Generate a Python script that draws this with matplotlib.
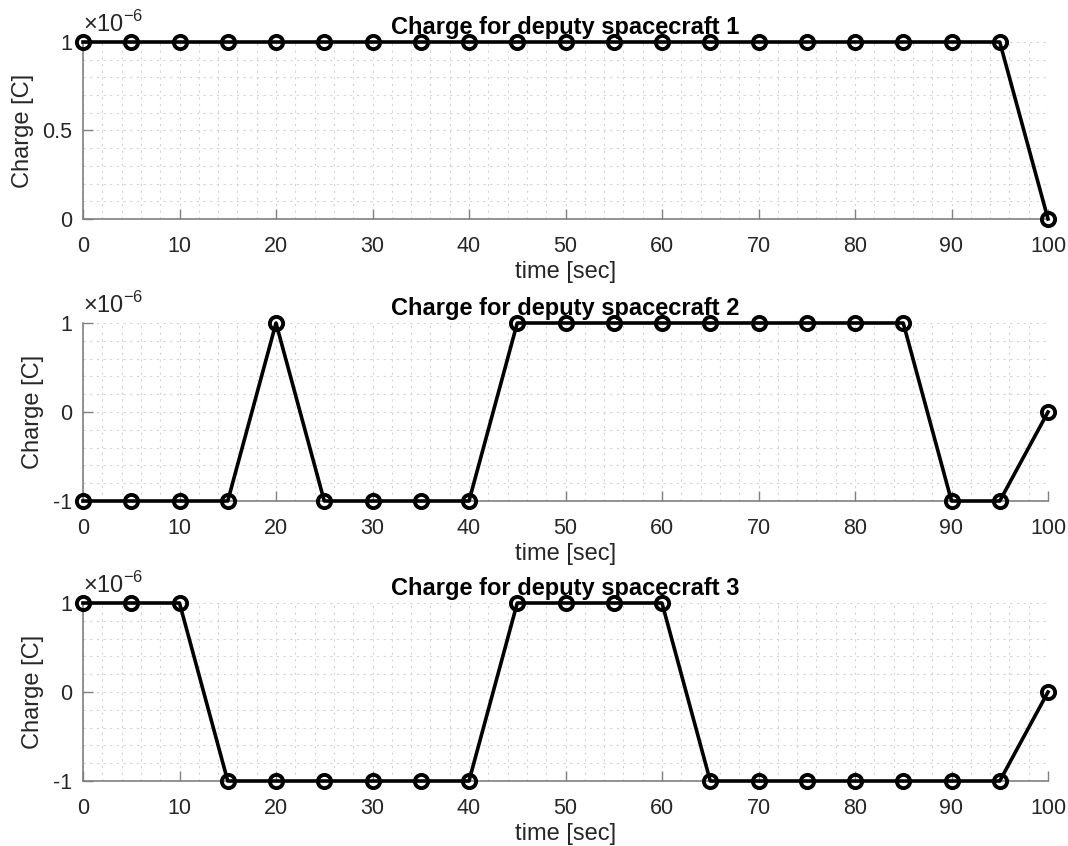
import matplotlib
matplotlib.use('Agg')
import matplotlib.pyplot as plt
from matplotlib.ticker import FuncFormatter, MultipleLocator

plt.rcParams['font.family'] = ['Liberation Sans', 'DejaVu Sans']
plt.rcParams['mathtext.fontset'] = 'custom'
plt.rcParams['mathtext.rm'] = 'Liberation Sans'

# time samples and charge levels (units of 1e-6 C)
time = [0, 5, 10, 15, 20, 25, 30, 35, 40, 45, 50, 55, 60, 65, 70, 75, 80, 85, 90, 95, 100]
q1 = [1, 1, 1, 1, 1, 1, 1, 1, 1, 1, 1, 1, 1, 1, 1, 1, 1, 1, 1, 1, 0]
q2 = [-1, -1, -1, -1, 1, -1, -1, -1, -1, 1, 1, 1, 1, 1, 1, 1, 1, 1, -1, -1, 0]
q3 = [1, 1, 1, -1, -1, -1, -1, -1, -1, 1, 1, 1, 1, -1, -1, -1, -1, -1, -1, -1, 0]
titles = ['Charge for deputy spacecraft 1', 'Charge for deputy spacecraft 2',
          'Charge for deputy spacecraft 3']
scale = 1e-6

fig = plt.figure(figsize=(10.68, 8.46), dpi=100)
W, H = 1068, 846
boxes = [(42, 219), (323, 501), (603, 781)]  # top, bottom in pixels
axis_col = '#808080'
text_col = '#262626'


def fmt(v, pos):
    s = f"{v / scale:.6g}"
    return '0' if s in ('-0', '0') else s


for k, (q, ttl) in enumerate(zip([q1, q2, q3], titles)):
    top, bot = boxes[k]
    ax = fig.add_axes([83 / W, (H - bot) / H, 965 / W, (bot - top) / H])
    y = [v * scale for v in q]
    ax.plot(time, y, color='black', linewidth=2.6, marker='o', markersize=9.5,
            markerfacecolor='none', markeredgewidth=2.8, clip_on=False, zorder=5)
    ax.set_xlim(0, 100)
    if k == 0:
        ax.set_ylim(0, 1e-6)
        ax.yaxis.set_major_locator(MultipleLocator(0.5e-6))
        ax.yaxis.set_minor_locator(MultipleLocator(0.1e-6))
    else:
        ax.set_ylim(-1e-6, 1e-6)
        ax.yaxis.set_major_locator(MultipleLocator(1e-6))
        ax.yaxis.set_minor_locator(MultipleLocator(0.2e-6))
    ax.xaxis.set_major_locator(MultipleLocator(10))
    ax.xaxis.set_minor_locator(MultipleLocator(2))
    ax.yaxis.set_major_formatter(FuncFormatter(fmt))

    for s in ['top', 'right']:
        ax.spines[s].set_visible(False)
    for s in ['left', 'bottom']:
        ax.spines[s].set_color(axis_col)
        ax.spines[s].set_linewidth(1.2)
    ax.tick_params(which='major', direction='in', length=7, width=1.0,
                   color=axis_col, labelsize=15.5, labelcolor=text_col)
    ax.tick_params(axis='x', pad=12)
    ax.tick_params(axis='y', pad=8)
    ax.tick_params(which='minor', length=0)
    ax.grid(which='both', color='#d4d4d4', linestyle=(0, (2, 4)), linewidth=0.8)
    ax.set_axisbelow(True)

    ax.set_xlabel('time [sec]', fontsize=17, color=text_col, labelpad=3)
    ax.set_ylabel('Charge [C]', fontsize=17, color=text_col, labelpad=6)
    ax.set_title(ttl, fontsize=17, fontweight='bold', pad=6)
    ax.text(0.0, 1.03, r'$\times10^{-6}$', transform=ax.transAxes,
            fontsize=17, color=text_col, ha='left', va='bottom')

fig.savefig('out.png', dpi=100)
